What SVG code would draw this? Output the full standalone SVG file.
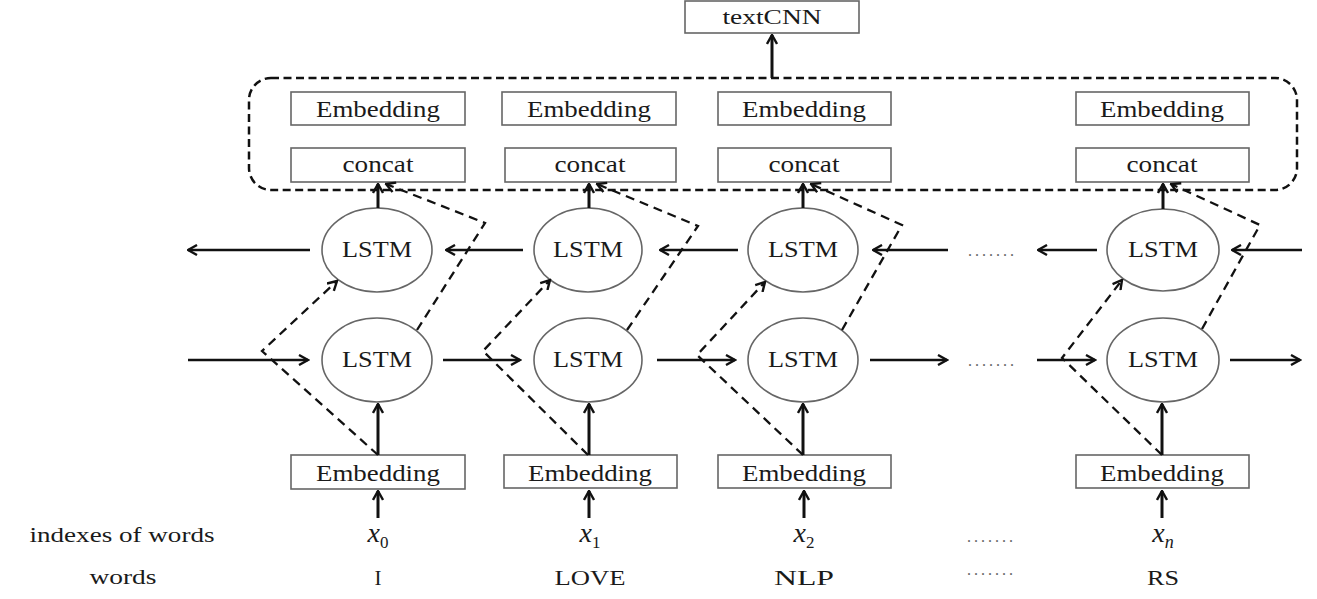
<svg xmlns="http://www.w3.org/2000/svg" width="1317" height="599" viewBox="0 0 1317 599">
<defs>
<marker id="ah" viewBox="0 0 12 12" refX="10.5" refY="6" markerWidth="12" markerHeight="12" orient="auto" markerUnits="userSpaceOnUse">
<path d="M1.5,1 L10.5,6 L1.5,11" fill="none" stroke="#111" stroke-width="2.4"/>
</marker>
</defs>
<style>
.box{fill:#fff;stroke:#666;stroke-width:1.6}
.cir{fill:#fff;stroke:#666;stroke-width:1.6}
.t{font-family:"Liberation Serif","Times New Roman",serif;fill:#1a1a1a;text-anchor:middle}
.lbl{font-size:23px}
.arr{fill:none;stroke:#111;stroke-width:2.5;marker-end:url(#ah)}
.varr{fill:none;stroke:#111;stroke-width:3;marker-end:url(#ah)}
.dsh{fill:none;stroke:#111;stroke-width:2.3;stroke-dasharray:9 6;marker-end:url(#ah)}
.dbox{fill:none;stroke:#111;stroke-width:2.5;stroke-dasharray:8 4.5}
.dots{font-family:"Liberation Serif",serif;font-size:16px;fill:#666;text-anchor:middle}
</style>
<rect width="1317" height="599" fill="#fff"/>

<g id="textcnn">
<rect class="box" x="685" y="1" width="174" height="32"/>
<text class="t" x="772" y="24" font-size="20" textLength="99" lengthAdjust="spacingAndGlyphs">textCNN</text>
</g>

<g id="concat-group">
<rect class="dbox" x="249" y="78" width="1048" height="112" rx="22"/>
</g>

<g id="col1-top">
<rect class="box" x="291" y="92" width="174" height="33"/>
<text class="t lbl" x="378" y="117" textLength="124" lengthAdjust="spacingAndGlyphs">Embedding</text>
<rect class="box" x="291" y="148" width="174" height="34"/>
<text class="t lbl" x="378" y="172" textLength="71" lengthAdjust="spacingAndGlyphs">concat</text>
</g>
<g id="col2-top">
<rect class="box" x="502" y="92" width="174" height="33"/>
<text class="t lbl" x="589" y="117" textLength="124" lengthAdjust="spacingAndGlyphs">Embedding</text>
<rect class="box" x="505" y="148" width="171" height="34"/>
<text class="t lbl" x="590" y="172" textLength="71" lengthAdjust="spacingAndGlyphs">concat</text>
</g>
<g id="col3-top">
<rect class="box" x="718" y="92" width="173" height="33"/>
<text class="t lbl" x="804" y="117" textLength="124" lengthAdjust="spacingAndGlyphs">Embedding</text>
<rect class="box" x="718" y="148" width="173" height="34"/>
<text class="t lbl" x="804" y="172" textLength="71" lengthAdjust="spacingAndGlyphs">concat</text>
</g>
<g id="col4-top">
<rect class="box" x="1076" y="92" width="173" height="33"/>
<text class="t lbl" x="1162" y="117" textLength="124" lengthAdjust="spacingAndGlyphs">Embedding</text>
<rect class="box" x="1076" y="148" width="173" height="34"/>
<text class="t lbl" x="1162" y="172" textLength="71" lengthAdjust="spacingAndGlyphs">concat</text>
</g>

<g id="lstm-b1">
<ellipse class="cir" cx="377" cy="250" rx="55" ry="42"/>
<text class="t lbl" x="377" y="257" textLength="70" lengthAdjust="spacingAndGlyphs">LSTM</text>
</g>
<g id="lstm-f1">
<ellipse class="cir" cx="377" cy="360" rx="55" ry="42"/>
<text class="t lbl" x="377" y="367" textLength="70" lengthAdjust="spacingAndGlyphs">LSTM</text>
</g>
<g id="lstm-b2">
<ellipse class="cir" cx="588" cy="250" rx="54" ry="42"/>
<text class="t lbl" x="588" y="257" textLength="70" lengthAdjust="spacingAndGlyphs">LSTM</text>
</g>
<g id="lstm-f2">
<ellipse class="cir" cx="588" cy="360" rx="54" ry="42"/>
<text class="t lbl" x="588" y="367" textLength="70" lengthAdjust="spacingAndGlyphs">LSTM</text>
</g>
<g id="lstm-b3">
<ellipse class="cir" cx="803" cy="250" rx="55" ry="42"/>
<text class="t lbl" x="803" y="257" textLength="70" lengthAdjust="spacingAndGlyphs">LSTM</text>
</g>
<g id="lstm-f3">
<ellipse class="cir" cx="803" cy="360" rx="55" ry="42"/>
<text class="t lbl" x="803" y="367" textLength="70" lengthAdjust="spacingAndGlyphs">LSTM</text>
</g>
<g id="lstm-b4">
<ellipse class="cir" cx="1163" cy="250" rx="56" ry="41"/>
<text class="t lbl" x="1163" y="257" textLength="70" lengthAdjust="spacingAndGlyphs">LSTM</text>
</g>
<g id="lstm-f4">
<ellipse class="cir" cx="1163" cy="360" rx="56" ry="42"/>
<text class="t lbl" x="1163" y="367" textLength="70" lengthAdjust="spacingAndGlyphs">LSTM</text>
</g>

<g id="col1-emb">
<rect class="box" x="291" y="455" width="174" height="34"/>
<text class="t lbl" x="378" y="481" textLength="124" lengthAdjust="spacingAndGlyphs">Embedding</text>
</g>
<g id="col2-emb">
<rect class="box" x="504" y="455" width="173" height="33"/>
<text class="t lbl" x="590" y="481" textLength="124" lengthAdjust="spacingAndGlyphs">Embedding</text>
</g>
<g id="col3-emb">
<rect class="box" x="718" y="455" width="173" height="33"/>
<text class="t lbl" x="804" y="481" textLength="124" lengthAdjust="spacingAndGlyphs">Embedding</text>
</g>
<g id="col4-emb">
<rect class="box" x="1076" y="455" width="173" height="33"/>
<text class="t lbl" x="1162" y="481" textLength="124" lengthAdjust="spacingAndGlyphs">Embedding</text>
</g>

<g id="dots-rows">
<text class="dots" x="991" y="256" textLength="46" lengthAdjust="spacing">.......</text>
<text class="dots" x="991" y="366" textLength="46" lengthAdjust="spacing">.......</text>
<text class="dots" x="990" y="542" textLength="46" lengthAdjust="spacing">.......</text>
<text class="dots" x="990" y="575" textLength="46" lengthAdjust="spacing">.......</text>
</g>

<g id="labels">
<text class="t" x="122" y="542" font-size="22" textLength="185" lengthAdjust="spacingAndGlyphs">indexes of words</text>
<text class="t" x="123" y="584" font-size="22" textLength="67" lengthAdjust="spacingAndGlyphs">words</text>
<text class="t" x="378" y="542" font-size="28" font-style="italic">x<tspan font-size="17" font-style="normal" dy="6">0</tspan></text>
<text class="t" x="590" y="542" font-size="28" font-style="italic">x<tspan font-size="17" font-style="normal" dy="6">1</tspan></text>
<text class="t" x="804" y="542" font-size="28" font-style="italic">x<tspan font-size="17" font-style="normal" dy="6">2</tspan></text>
<text class="t" x="1163" y="542" font-size="28" font-style="italic">x<tspan font-size="18" dy="6">n</tspan></text>
<text class="t" x="378" y="585" font-size="21">I</text>
<text class="t" x="590" y="585" font-size="21" textLength="71" lengthAdjust="spacingAndGlyphs">LOVE</text>
<text class="t" x="804" y="585" font-size="21" textLength="60" lengthAdjust="spacingAndGlyphs">NLP</text>
<text class="t" x="1163" y="585" font-size="21" textLength="32" lengthAdjust="spacingAndGlyphs">RS</text>
</g>

<g id="connectors">
<path class="varr" d="M772,78 L772,35"/>
<path class="varr" d="M378,208 L378,184"/>
<path class="varr" d="M589,208 L589,184"/>
<path class="varr" d="M803,208 L803,184"/>
<path class="varr" d="M1163,209 L1163,184"/>
<path class="varr" d="M378,455 L378,404"/>
<path class="varr" d="M589,455 L589,404"/>
<path class="varr" d="M803,455 L803,404"/>
<path class="varr" d="M1162,455 L1162,404"/>
<path class="varr" d="M378,518 L378,491"/>
<path class="varr" d="M589,518 L589,491"/>
<path class="varr" d="M804,518 L804,491"/>
<path class="varr" d="M1162,518 L1162,491"/>
<path class="arr" d="M310,250 L188,250"/>
<path class="arr" d="M523,250 L446,250"/>
<path class="arr" d="M738,250 L660,250"/>
<path class="arr" d="M948,250 L873,250"/>
<path class="arr" d="M1097,250 L1038,250"/>
<path class="arr" d="M1302,250 L1232,250"/>
<path class="arr" d="M188,360 L308,360"/>
<path class="arr" d="M443,360 L520,360"/>
<path class="arr" d="M657,360 L735,360"/>
<path class="arr" d="M870,360 L947,360"/>
<path class="arr" d="M1037,360 L1095,360"/>
<path class="arr" d="M1230,360 L1300,360"/>
<path class="dsh" d="M378,455 L262,351 L337,281"/>
<path class="dsh" d="M417,330 L485,223 L386,184"/>
<path class="dsh" d="M588,455 L483,351 L550,280"/>
<path class="dsh" d="M627,330 L698,226 L597,184"/>
<path class="dsh" d="M803,455 L697,355 L765,282"/>
<path class="dsh" d="M842,330 L902,225 L811,184"/>
<path class="dsh" d="M1162,455 L1062,358 L1122,280"/>
<path class="dsh" d="M1202,329 L1260,225 L1171,184"/>
</g>
</svg>
